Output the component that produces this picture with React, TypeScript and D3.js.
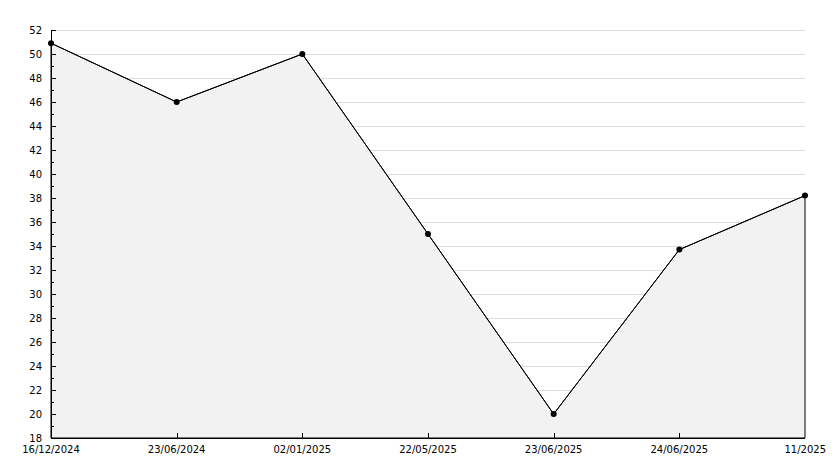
import React, { useEffect, useRef } from 'react';
import * as d3 from 'd3';

// category labels along the bottom (last one is clipped in the original)
const dateLabels = ['16/12/2024', '23/06/2024', '02/01/2025', '22/05/2025', '23/06/2025', '24/06/2025', '11/2025'];
const values = [50.9, 46, 50, 35, 20, 33.7, 38.2];
const yDomain = [18, 52];

const width = 834;
const height = 468;
const margin = { top: 30, right: 29, bottom: 30, left: 51 };

export default function App() {
    const svgRef = useRef<SVGSVGElement>(null);

    useEffect(() => {
        if (!svgRef.current) return;
        const svg = d3.select(svgRef.current);
        svg.selectAll('*').remove();

        const x = d3.scalePoint<string>()
            .domain(dateLabels)
            .range([margin.left, width - margin.right]);
        const y = d3.scaleLinear()
            .domain(yDomain)
            .range([height - margin.bottom, margin.top]);

        const font = 'DejaVu Sans, sans-serif';
        const crisp = (v: number) => Math.round(v) + 0.5;

        // horizontal grid every 2 units
        const majors = d3.range(yDomain[0], yDomain[1] + 1, 2);
        const minors = d3.range(yDomain[0] + 1, yDomain[1], 2);
        svg.append('g')
            .selectAll('line')
            .data(majors.slice(1))
            .enter()
            .append('line')
            .attr('x1', margin.left)
            .attr('x2', width - margin.right)
            .attr('y1', d => crisp(y(d)))
            .attr('y2', d => crisp(y(d)))
            .attr('stroke', '#dddddd')
            .attr('stroke-width', 1);

        const data = values.map((v, i) => ({ label: dateLabels[i], value: v }));

        // shaded area under the line
        const area = d3.area<{ label: string; value: number }>()
            .x(d => x(d.label)!)
            .y0(y(yDomain[0]))
            .y1(d => y(d.value));
        svg.append('path')
            .datum(data)
            .attr('d', area)
            .attr('fill', '#f2f2f2')
            .attr('stroke', '#000')
            .attr('stroke-width', 1);

        const line = d3.line<{ label: string; value: number }>()
            .x(d => x(d.label)!)
            .y(d => y(d.value));
        svg.append('path')
            .datum(data)
            .attr('d', line)
            .attr('fill', 'none')
            .attr('stroke', '#000')
            .attr('stroke-width', 1);

        // y axis line + ticks (pointing inward)
        const yAxis = svg.append('g').attr('stroke', '#000').attr('stroke-width', 1);
        yAxis.append('line')
            .attr('x1', crisp(margin.left)).attr('x2', crisp(margin.left))
            .attr('y1', margin.top).attr('y2', height - margin.bottom);
        yAxis.selectAll('line.major')
            .data(majors)
            .enter()
            .append('line')
            .attr('class', 'major')
            .attr('x1', margin.left).attr('x2', margin.left + 5)
            .attr('y1', d => crisp(y(d))).attr('y2', d => crisp(y(d)));
        yAxis.selectAll('line.minor')
            .data(minors)
            .enter()
            .append('line')
            .attr('class', 'minor')
            .attr('x1', margin.left).attr('x2', margin.left + 3)
            .attr('y1', d => crisp(y(d))).attr('y2', d => crisp(y(d)));

        svg.append('g')
            .selectAll('text')
            .data(majors)
            .enter()
            .append('text')
            .attr('x', margin.left - 9)
            .attr('y', d => y(d))
            .attr('dy', '0.35em')
            .attr('text-anchor', 'end')
            .attr('font-family', font)
            .attr('font-size', 10)
            .attr('fill', '#000')
            .text(d => d);

        // x axis line + ticks
        const xAxis = svg.append('g').attr('stroke', '#000').attr('stroke-width', 1);
        xAxis.append('line')
            .attr('x1', margin.left).attr('x2', width - margin.right)
            .attr('y1', crisp(y(yDomain[0]))).attr('y2', crisp(y(yDomain[0])));
        xAxis.selectAll('line.tick')
            .data(dateLabels.slice(1, -1))
            .enter()
            .append('line')
            .attr('class', 'tick')
            .attr('x1', d => crisp(x(d)!)).attr('x2', d => crisp(x(d)!))
            .attr('y1', y(yDomain[0])).attr('y2', y(yDomain[0]) - 5);

        svg.append('g')
            .selectAll('text')
            .data(dateLabels)
            .enter()
            .append('text')
            .attr('x', (d, i) => (i === dateLabels.length - 1 ? width - 8 : x(d)!))
            .attr('y', height - margin.bottom + 15)
            .attr('text-anchor', (d, i) => (i === dateLabels.length - 1 ? 'end' : 'middle'))
            .attr('font-family', font)
            .attr('font-size', 10)
            .attr('fill', '#000')
            .text(d => d);

        // point markers
        svg.append('g')
            .selectAll('circle')
            .data(data)
            .enter()
            .append('circle')
            .attr('cx', d => x(d.label)!)
            .attr('cy', d => y(d.value))
            .attr('r', 3)
            .attr('fill', '#000');
    }, []);

    return (
        <svg
            ref={svgRef}
            width={width}
            height={height}
            style={{ position: 'absolute', left: 0, top: 0, background: '#fff' }}
        />
    );
}
